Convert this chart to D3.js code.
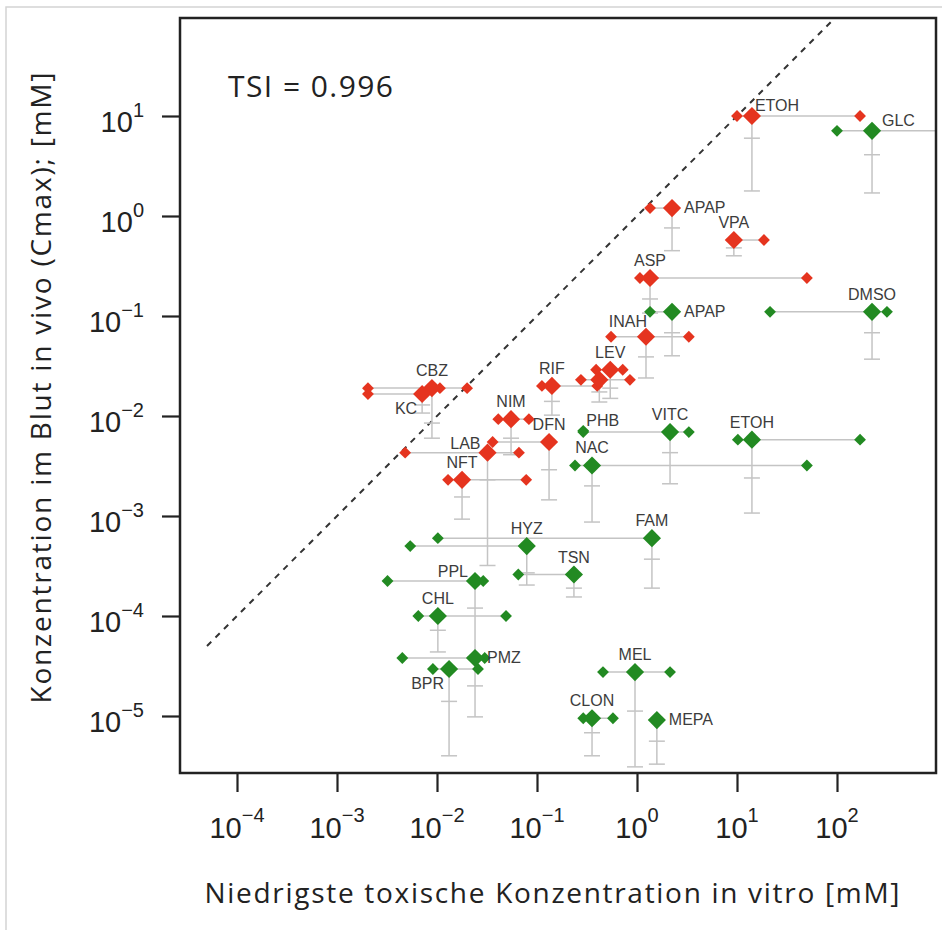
<!DOCTYPE html>
<html>
<head>
<meta charset="utf-8">
<script src="https://cdn.jsdelivr.net/npm/d3@7"></script>
<style>
  body { margin: 0; background: #fff; }
</style>
</head>
<body>
<div class="tsi"></div>
<script>
var width = 942,
    height = 930;

// compound names, red (1) = toxic at Cmax, green (0) = not
var names = ["ETOH", "APAP", "VPA", "ASP", "INAH", "LEV", "", "RIF", "CBZ", "KC", "NIM", "DFN", "LAB", "NFT",
             "GLC", "APAP", "DMSO", "PHB", "VITC", "ETOH", "NAC", "FAM", "HYZ", "TSN", "PPL", "CHL", "PMZ", "BPR", "MEL", "CLON", "MEPA"];
var toxic = [1, 1, 1, 1, 1, 1, 1, 1, 1, 1, 1, 1, 1, 1,
             0, 0, 0, 0, 0, 0, 0, 0, 0, 0, 0, 0, 0, 0, 0, 0, 0];

// lowest toxic concentration in vitro [mM]: mean and single experiments
var vitroMean = [14.1, 2.24, 9.3, 1.35, 1.23, 0.54, 0.42, 0.141, 0.0089, 0.0071, 0.055, 0.132, 0.032, 0.0178,
                 224, 2.24, 224, null, 2.14, 14.1, 0.355, 1.41, 0.079, 0.234, 0.024, 0.0102, 0.024, 0.0132, 0.955, 0.355, 1.58];
var vitroReps = [[10, 170], [1.35], [18.6], [1.07, 50], [0.55, 3.3], [0.39, 0.72], [0.275, 0.85], [0.112, 0.40],
                 [0.00204, 0.0107, 0.02], [0.00204], [0.041, 0.083], [0.036], [0.0048, 0.066], [0.0129, 0.078],
                 [100, 3000], [1.35], [21.4, 316], [0.29], [0.29, 3.3], [10.2, 170], [0.24, 50], [0.0102], [0.0054],
                 [0.065], [0.0032, 0.029], [0.0065, 0.049], [0.0045, 0.030], [0.0091, 0.0257], [0.457, 2.14],
                 [0.29, 0.575], []];

// Cmax in blood [mM] and the two lower whisker marks
var cmax = [10, 1.2, 0.575, 0.24, 0.062, 0.029, 0.023, 0.020, 0.019, 0.0166, 0.0093, 0.0055, 0.0043, 0.0023,
            7.1, 0.11, 0.11, 0.0071, 0.0069, 0.0058, 0.0032, 0.0006, 0.0005, 0.00026, 0.000224, 0.0001,
            0.000038, 0.0000295, 0.0000275, 0.0000095, 0.0000091];
var cmaxMid = [6.0, 0.76, 0.48, 0.148, 0.039, 0.019, 0.0174, 0.014, 0.0085, 0.0129, 0.006, 0.0029, 0.0023, 0.00155,
               4.1, 0.068, 0.068, null, 0.0043, 0.0024, 0.002, 0.00037, 0.00027, 0.00019, 0.00012, 0.000072,
               0.00002, 0.000014, 0.0000112, 0.0000068, 0.0000056];
var cmaxLow = [1.78, 0.45, 0.40, 0.107, 0.024, 0.015, 0.0138, 0.0102, 0.006, 0.0107, 0.0041, 0.00145, 0.00032, 0.00093,
               1.7, 0.04, 0.037, null, 0.0021, 0.00107, 0.00087, 0.00019, 0.000204, 0.000155, 0.0000389, 0.0000437,
               0.0000098, 0.000004, 0.0000031, 0.000004, 0.0000033];

// where the name goes relative to the big diamond
var labelSide = ["tr", "r", "t", "t", "tl", "t", "", "t", "t", "bl", "t", "t", "l", "t",
                 "ur", "r", "t", "tr", "t", "t", "t", "t", "t", "t", "l", "t", "r", "bl", "t", "t", "r"];

var xExp = [-4, -3, -2, -1, 0, 1, 2];
var yExp = [-5, -4, -3, -2, -1, 0, 1];
var tsi = "0.996";

var red = "#e5341f",
    green = "#228a22",
    grey = "#c4c4c4";

var compounds = names.map((n, i) => ({
    name: n, toxic: toxic[i], mean: vitroMean[i], reps: vitroReps[i],
    y: cmax[i], mid: cmaxMid[i], low: cmaxLow[i], side: labelSide[i]
}));

var svg = d3.select(".tsi").append("svg")
    .attr("width", width)
    .attr("height", height)
    .style("font-family", "'Liberation Sans', Arial, sans-serif");

// light frame of the figure
svg.append("path")
    .attr("d", "M6,930V7H942")
    .style("fill", "none")
    .style("stroke", "#d4d4d4")
    .style("stroke-width", 1.5);

var pLeft = 180, pTop = 18, pRight = 936, pBottom = 773;

var x = d3.scaleLog()
    .domain([Math.pow(10, -4.57), Math.pow(10, 2.99)])
    .range([pLeft, pRight]);
var y = d3.scaleLog()
    .domain([Math.pow(10, -5.57), Math.pow(10, 1.98)])
    .range([pBottom, pTop]);

svg.append("clipPath").attr("id", "plotclip")
  .append("rect")
    .attr("x", pLeft).attr("y", pTop)
    .attr("width", pRight - pLeft).attr("height", pBottom - pTop);

var plot = svg.append("g").attr("clip-path", "url(#plotclip)");

// identity line
plot.append("line")
    .attr("x1", x(Math.pow(10, -4.3)))
    .attr("y1", y(Math.pow(10, -4.3)))
    .attr("x2", x(Math.pow(10, 2.5)))
    .attr("y2", y(Math.pow(10, 2.5)))
    .style("stroke", "#333")
    .style("stroke-width", 2)
    .style("stroke-dasharray", "6,6");

// horizontal ranges of the in vitro values
compounds.forEach(c => {
    var xs = c.reps.concat(c.mean == null ? [] : [c.mean]);
    if (xs.length < 2) return;
    plot.append("line")
        .attr("x1", x(d3.min(xs))).attr("x2", x(d3.max(xs)))
        .attr("y1", y(c.y)).attr("y2", y(c.y))
        .style("stroke", grey).style("stroke-width", 1.5);
});

// vertical bars for Cmax
compounds.filter(c => c.mean != null && c.low != null).forEach(c => {
    var cx = x(c.mean);
    plot.append("line")
        .attr("x1", cx).attr("x2", cx)
        .attr("y1", y(c.y)).attr("y2", y(c.low))
        .style("stroke", grey).style("stroke-width", 1.5);
    [c.mid, c.low].forEach(v => {
        plot.append("line")
            .attr("x1", cx - 8).attr("x2", cx + 8)
            .attr("y1", y(v)).attr("y2", y(v))
            .style("stroke", grey).style("stroke-width", 1.5);
    });
});

var small = d3.symbol().type(d3.symbolSquare).size(70),
    big = d3.symbol().type(d3.symbolSquare).size(165);

compounds.forEach(c => {
    c.reps.forEach(v => {
        plot.append("path")
            .attr("d", small())
            .attr("transform", `translate(${x(v)},${y(c.y)}) rotate(45)`)
            .style("fill", c.toxic ? red : green);
    });
});
compounds.filter(c => c.mean != null).forEach(c => {
    plot.append("path")
        .attr("d", big())
        .attr("transform", `translate(${x(c.mean)},${y(c.y)}) rotate(45)`)
        .style("fill", c.toxic ? red : green);
});

// compound names
var offsets = {
    t: [0, -12, "middle"], tl: [-18, -10, "middle"], tr: [3, -5, "start"], ur: [10, -5, "start"],
    r: [12, 5, "start"], l: [-7, -4, "end"], bl: [-5, 20, "end"]
};
compounds.filter(c => c.name && c.side).forEach(c => {
    var o = offsets[c.side];
    var px = x(c.mean != null ? c.mean : c.reps[0]);
    svg.append("text")
        .attr("x", px + o[0])
        .attr("y", y(c.y) + o[1])
        .attr("text-anchor", o[2])
        .style("font-size", "16px")
        .style("fill", "#3c3c3c")
        .text(c.name);
});

// box
svg.append("rect")
    .attr("x", pLeft).attr("y", pTop)
    .attr("width", pRight - pLeft).attr("height", pBottom - pTop)
    .style("fill", "none")
    .style("stroke", "#222")
    .style("stroke-width", 2.5);

// axes
var xAxis = svg.append("g")
    .attr("transform", `translate(0,${pBottom})`)
    .call(d3.axisBottom(x).tickValues(xExp.map(e => Math.pow(10, e))).tickSize(19).tickFormat(""));
var yAxis = svg.append("g")
    .attr("transform", `translate(${pLeft},0)`)
    .call(d3.axisLeft(y).tickValues(yExp.map(e => Math.pow(10, e))).tickSize(18).tickFormat(""));
[xAxis, yAxis].forEach(a => {
    a.select(".domain").remove();
    a.selectAll(".tick line").style("stroke", "#222").style("stroke-width", 2.2);
});

var sup = e => (e < 0 ? "\u2212" : "") + Math.abs(e);

xExp.forEach(e => {
    var t = svg.append("text")
        .attr("x", x(Math.pow(10, e)))
        .attr("y", 838)
        .attr("text-anchor", "middle")
        .style("font-size", "29px")
        .style("fill", "#222");
    t.append("tspan").text("10");
    t.append("tspan").attr("dy", -16).style("font-size", "20px").text(sup(e));
});

yExp.forEach(e => {
    var t = svg.append("text")
        .attr("x", 144)
        .attr("y", y(Math.pow(10, e)) + 16)
        .attr("text-anchor", "end")
        .style("font-size", "29px")
        .style("fill", "#222");
    t.append("tspan").text("10");
    t.append("tspan").attr("dy", -15).style("font-size", "20px").text(sup(e));
});

// titles
svg.append("text")
    .attr("x", 552).attr("y", 903)
    .attr("text-anchor", "middle")
    .attr("textLength", 695)
    .style("font-family", "'Open Sans', sans-serif")
    .style("font-size", "28px")
    .style("fill", "#222")
    .text("Niedrigste toxische Konzentration  in vitro [mM]");

svg.append("text")
    .attr("transform", "translate(51,388) rotate(-90)")
    .attr("text-anchor", "middle")
    .attr("textLength", 631)
    .style("font-family", "'Open Sans', sans-serif")
    .style("font-size", "28px")
    .style("fill", "#222")
    .text("Konzentration  im Blut in vivo (Cmax); [mM]");

svg.append("text")
    .attr("x", 228).attr("y", 97)
    .attr("textLength", 165)
    .style("font-family", "'Open Sans', sans-serif")
    .style("font-size", "30px")
    .style("fill", "#222")
    .text("TSI = " + tsi);
</script>
</body>
</html>
